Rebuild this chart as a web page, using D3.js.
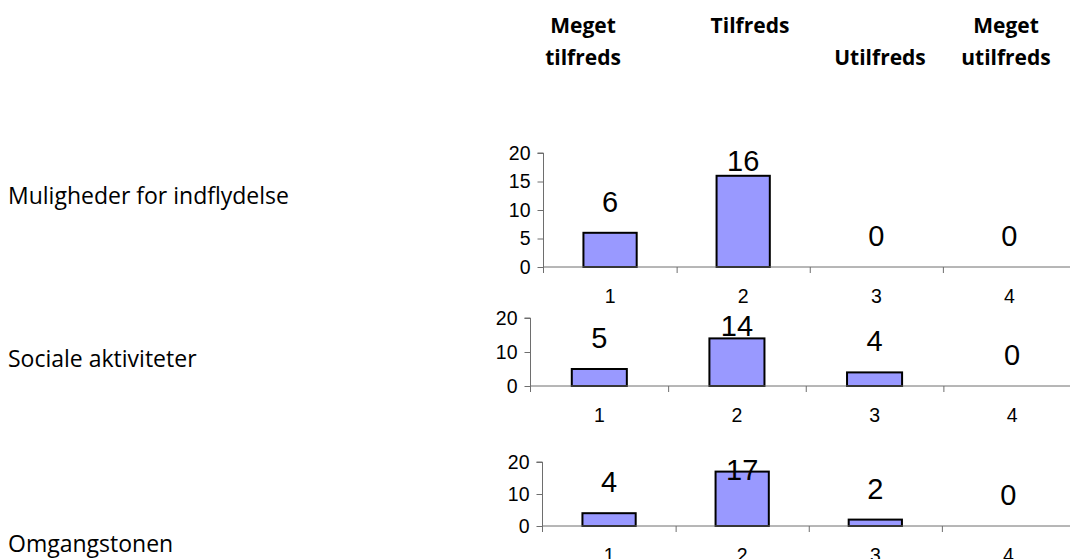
<!DOCTYPE html>
<html>
<head>
<meta charset="utf-8">
<script src="https://cdn.jsdelivr.net/npm/d3@7"></script>
<style>
  html, body { margin: 0; padding: 0; background: #fff; }
  svg { display: block; }
</style>
</head>
<body>
<svg id="chart" width="1070" height="559"></svg>
<script>
// ---- data ----
const categories = ["1", "2", "3", "4"];
const headerLabels = [["Meget", "tilfreds"], ["Tilfreds"], ["", "Utilfreds"], ["Meget", "utilfreds"]];
const rowLabels = ["Muligheder for indflydelse", "Sociale aktiviteter", "Omgangstonen"];
const valuesIndflydelse = [6, 16, 0, 0];
const valuesAktiviteter = [5, 14, 4, 0];
const valuesOmgangstonen = [4, 17, 2, 0];
const ticksIndflydelse = [0, 5, 10, 15, 20];
const ticksAktiviteter = [0, 10, 20];
const ticksOmgangstonen = [0, 10, 20];
const yMax = 20;

// ---- layout ----
const svg = d3.select("#chart");
const panels = [
  { values: valuesIndflydelse, ticks: ticksIndflydelse, label: rowLabels[0], x0: 543.5, x1: 1076, yB: 267, yT: 153, labelY: 204 },
  { values: valuesAktiviteter, ticks: ticksAktiviteter, label: rowLabels[1], x0: 530.5, x1: 1081, yB: 386, yT: 318, labelY: 367 },
  { values: valuesOmgangstonen, ticks: ticksOmgangstonen, label: rowLabels[2], x0: 542.5, x1: 1075, yB: 526, yT: 462, labelY: 552 }
];

const axisColor = "#6e6e6e";
const barFill = "#9999ff";

// header
const headerX = [583, 750, 880, 1006];
headerLabels.forEach((lines, i) => {
  lines.forEach((t, j) => {
    if (!t) return;
    svg.append("text")
      .attr("x", headerX[i]).attr("y", 33 + j * 32)
      .attr("text-anchor", "middle")
      .attr("font-family", "'Open Sans', sans-serif")
      .attr("font-weight", "bold")
      .attr("font-size", 21)
      .attr("fill", "#000")
      .text(t);
  });
});

panels.forEach(p => {
  const g = svg.append("g");
  const x = d3.scaleBand().domain(categories).range([p.x0, p.x1]).paddingInner(0.6).paddingOuter(0.3);
  const xb = d3.scaleLinear().domain([0, categories.length]).range([p.x0, p.x1]);
  const y = d3.scaleLinear().domain([0, yMax]).range([p.yB, p.yT]);

  // row label
  svg.append("text")
    .attr("x", 8).attr("y", p.labelY)
    .attr("font-family", "'Open Sans', sans-serif")
    .attr("font-size", 23)
    .attr("fill", "#000")
    .text(p.label);

  // bars
  g.selectAll("rect.bar").data(p.values).join("rect")
    .attr("class", "bar")
    .attr("x", (d, i) => x(categories[i]))
    .attr("width", x.bandwidth())
    .attr("y", d => y(d))
    .attr("height", d => y(0) - y(d))
    .attr("fill", barFill)
    .attr("stroke", "#000")
    .attr("stroke-width", 2)
    .attr("display", d => d > 0 ? null : "none");

  // y axis
  const yAxis = d3.axisLeft(y).tickValues(p.ticks).tickSize(6).tickPadding(7);
  const ya = g.append("g").attr("transform", `translate(${p.x0},0)`).call(yAxis);
  ya.select(".domain").attr("stroke", axisColor).attr("d", `M-6,${p.yT}H0V${p.yB + 6}`);
  ya.selectAll(".tick line").attr("stroke", axisColor);
  ya.selectAll(".tick text").attr("font-family", "'Liberation Sans', Arial, sans-serif").attr("font-size", 19.5).attr("fill", "#000");

  // x axis: boundary ticks + centered category labels
  const xAxisB = d3.axisBottom(xb).tickValues(d3.range(1, categories.length + 1)).tickSize(6).tickFormat("");
  const xa = g.append("g").attr("transform", `translate(0,${p.yB})`).call(xAxisB);
  xa.select(".domain").attr("stroke", axisColor).attr("d", `M${p.x0},0H${p.x1}`);
  xa.selectAll(".tick line").attr("stroke", axisColor);

  const xAxisC = d3.axisBottom(x).tickSize(0).tickPadding(22);
  const xc = g.append("g").attr("transform", `translate(0,${p.yB})`).call(xAxisC);
  xc.select(".domain").remove();
  xc.selectAll(".tick text").attr("font-family", "'Liberation Sans', Arial, sans-serif").attr("font-size", 19.5).attr("fill", "#000");

  // data labels
  g.selectAll("text.val").data(p.values).join("text")
    .attr("class", "val")
    .attr("x", (d, i) => x(categories[i]) + x.bandwidth() / 2)
    .attr("y", d => Math.max(y(d) - 21, p.yT + 18))
    .attr("text-anchor", "middle")
    .attr("font-family", "'Liberation Sans', Arial, sans-serif")
    .attr("font-size", 29)
    .attr("fill", "#000")
    .text(d => d);
});
</script>
</body>
</html>
